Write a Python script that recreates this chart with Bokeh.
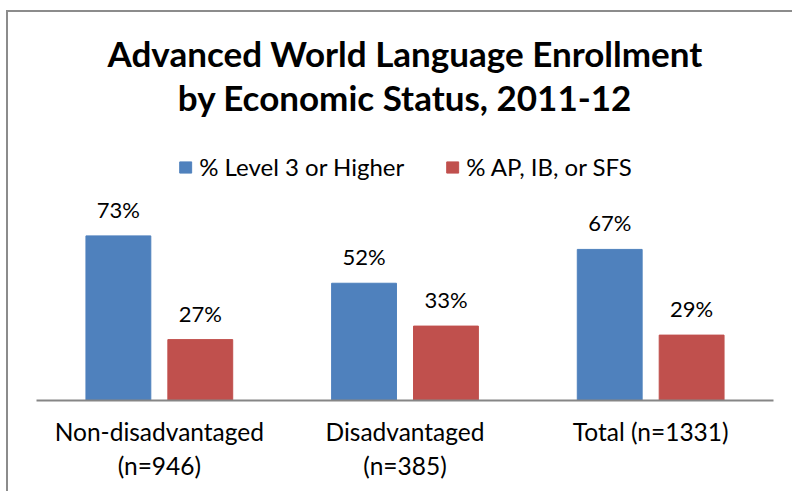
from bokeh.plotting import figure
from bokeh.models import FactorRange, Range1d, Title, Legend, LegendItem, ColumnDataSource
from bokeh.transform import dodge
from bokeh.core.properties import value
from bokeh.embed import file_html
from bokeh.resources import INLINE

# ---- data ----
categories = ["Non-disadvantaged\n(n=946)", "Disadvantaged\n(n=385)", "Total (n=1331)"]
level3 = [73, 52, 67]
ap_ib_sfs = [27, 33, 29]
series_names = ["% Level 3 or Higher", "% AP, IB, or SFS"]
title_lines = ["Advanced World Language Enrollment", "by Economic Status, 2011-12"]

BLUE = "#4F81BD"
RED = "#C0504D"
FONT = "Lato"

source = ColumnDataSource(dict(
    cat=categories,
    level3=level3,
    ap=ap_ib_sfs,
    level3_lbl=[f"{v}%" for v in level3],
    ap_lbl=[f"{v}%" for v in ap_ib_sfs],
))

OX, OY = 8, 12          # canvas origin on the page (after margin + border)
W, H = 794 - OX, 493 - OY
p = figure(width=W, height=H, output_backend="svg", toolbar_location=None,
           x_range=FactorRange(*categories, range_padding=0),
           y_range=Range1d(0, 125.5),
           min_border_left=36 - OX, min_border_right=W - (773 - OX),
           min_border_bottom=H - (400 - OY), min_border_top=117 - OY)
p.styles = {"margin-left": "6px", "margin-top": "10px", "overflow": "hidden",
            "border-left": "2px solid #8c8c8c", "border-top": "2px solid #8c8c8c"}

p.outline_line_color = None
p.xgrid.visible = False
p.ygrid.visible = False
p.yaxis.visible = False

xa = p.xaxis[0]
xa.axis_line_color = "#868686"
xa.axis_line_width = 2
xa.major_tick_line_color = None
xa.minor_tick_line_color = None
xa.major_label_text_font = FONT
xa.major_label_text_font_size = "24.5px"
xa.major_label_text_color = "#000000"
xa.major_label_standoff = 10

bw = 0.264
off = 0.1667
r1 = p.vbar(x=dodge("cat", -off, range=p.x_range), top="level3", width=bw, bottom=0,
            source=source, fill_color=BLUE, line_color=BLUE)
r2 = p.vbar(x=dodge("cat", off, range=p.x_range), top="ap", width=bw, bottom=0,
            source=source, fill_color=RED, line_color=RED)

for col, lbl, o in (("level3", "level3_lbl", -off), ("ap", "ap_lbl", off)):
    p.text(x=dodge("cat", o, range=p.x_range), y=col, text=lbl, source=source,
           text_align="center", text_baseline="bottom", y_offset=-13,
           text_font=value(FONT), text_font_size="22px", text_color="#000000")

legend = Legend(items=[LegendItem(label=series_names[0], renderers=[r1]),
                       LegendItem(label=series_names[1], renderers=[r2])],
                orientation="horizontal", location="top_center",
                label_text_font=FONT, label_text_font_size="24px", label_text_color="#000000",
                glyph_width=15, glyph_height=14, label_standoff=7, spacing=40,
                border_line_color=None, background_fill_alpha=0, padding=4, margin=35)
p.add_layout(legend)

for i, line in enumerate(reversed(title_lines)):
    t = Title(text=line, align="center", text_font=FONT, text_font_size="35px",
              text_font_style="bold", text_color="#000000", standoff=0)
    p.add_layout(t, "above")

open("out.html", "w").write(file_html(p, INLINE))
